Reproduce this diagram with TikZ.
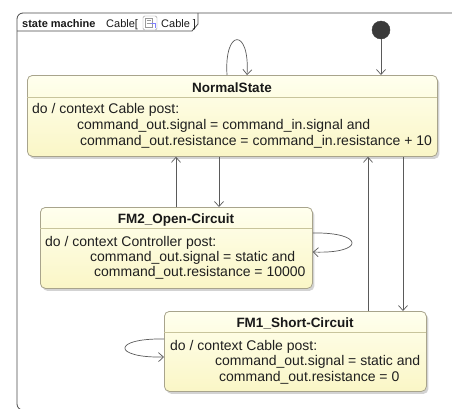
\documentclass[tikz,border=0pt]{standalone}
\usepackage{fontspec}
\setmainfont{Liberation Sans}
\usetikzlibrary{arrows.meta,shadows}
\definecolor{boxborder}{HTML}{A8A48C}
\definecolor{divcol}{HTML}{C8C49C}
\definecolor{linecol}{HTML}{5A5A5A}
\definecolor{framecol}{HTML}{4A4A4A}
\definecolor{fillA}{HTML}{FFFFEE}
\definecolor{fillB}{HTML}{FAF6C6}
\definecolor{initcol}{HTML}{3A3A3A}
\tikzset{
  statebox/.style={draw=boxborder, line width=0.8pt, rounded corners=5pt,
    top color=fillA, bottom color=fillB, anchor=north west, inner sep=0pt,
    drop shadow={shadow xshift=2pt, shadow yshift=-2.5pt, opacity=0.35, fill=gray}},
  divider/.style={draw=divcol, line width=0.8pt},
  body/.style={anchor=base west, inner sep=0pt, text=black!88,
    font=\fontsize{14}{16}\selectfont},
  head/.style={anchor=base, inner sep=0pt, text=black!90,
    font=\fontsize{13.5}{16}\selectfont\bfseries},
  trans/.style={draw=linecol, line width=0.7pt, -{Straight Barb[length=5pt,width=9pt]}},
  framestyle/.style={draw=framecol, line width=0.8pt},
  tabtext/.style={anchor=base west, inner sep=0pt, text=black!90,
    font=\fontsize{11}{13}\selectfont},
  initstate/.style={circle, fill=initcol, draw=initcol, minimum size=18pt, inner sep=0pt}
}
\begin{document}
\begin{tikzpicture}[x=1pt,y=-1pt]
\useasboundingbox (0,0) rectangle (452,408);
\clip (0,0) rectangle (452,408);
% frame
\draw[framestyle, rounded corners=6pt] (17,13) rectangle (480,410);
\draw[framestyle] (17,31) -- (192,31) -- (198,24) -- (198,13);
\node[tabtext, font=\fontsize{11}{13}\selectfont\bfseries] (tabsm) at (22,27) {state machine};
\node[tabtext] (tabc1) at (106,27) {Cable[};
\node[draw=gray!80, fill=white, rounded corners=1.5pt, minimum width=14pt, minimum height=14pt, inner sep=0pt] (icon) at (150,23) {};
\draw[gray!80, line width=0.5pt] (145,18) rectangle (152,27);
\draw[gray!80, line width=0.5pt] (146.5,20.5) -- (150.5,20.5) (146.5,23) -- (150.5,23);
\draw[blue!50, line width=0.6pt] (151,23.5) -- (155,23.5) -- (155,28);
\node[tabtext] (tabc2) at (161,27) {Cable ]};
% initial
\node[initstate] (init) at (381,30) {};
% NormalState
\node[statebox, minimum width=410pt, minimum height=81pt] (ns) at (27,75) {};
\draw[divider] (27,97) -- (437,97);
\node[head] (nsh) at (232,92) {NormalState};
\node[body] (ns1) at (32,113) {do / context Cable post:};
\node[body] (ns2) at (77,129) {command\_out.signal = command\_in.signal and};
\node[body] (ns3) at (80,145) {command\_out.resistance = command\_in.resistance + 10};
% FM2
\node[statebox, minimum width=272pt, minimum height=81pt] (fm2) at (40,207) {};
\draw[divider] (40,228) -- (312,228);
\node[head] (fm2h) at (176,223) {FM2\_Open-Circuit};
\node[body] (fm21) at (45,246.5) {do / context Controller post:};
\node[body] (fm22) at (90,261.5) {command\_out.signal = static and};
\node[body] (fm23) at (94,276.5) {command\_out.resistance = 10000};
% FM1
\node[statebox, minimum width=262pt, minimum height=80pt] (fm1) at (164,311) {};
\draw[divider] (164,332) -- (426,332);
\node[head] (fm1h) at (295,327) {FM1\_Short-Circuit};
\node[body] (fm11) at (170,350) {do / context Cable post:};
\node[body] (fm12) at (215,365.5) {command\_out.signal = static and};
\node[body] (fm13) at (219,381.5) {command\_out.resistance = 0};
% transitions
\draw[trans] (init) -- (init |- ns.north);
\draw[trans] (ns.north -| 227,0) .. controls (224,28) and (250,28) .. (ns.north -| 247,0);
\draw[trans] (fm2.north -| 176,0) -- (ns.south -| 176,0);
\draw[trans] (ns.south -| 219,0) -- (fm2.north -| 219,0);
\draw[trans] (fm1.north -| 368,0) -- (ns.south -| 368,0);
\draw[trans] (ns.south -| 403,0) -- (fm1.north -| 403,0);
\draw[trans] (fm2.east |- 0,233) .. controls (365,232) and (365,254) .. (fm2.east |- 0,252);
\draw[trans] (fm1.west |- 0,339) .. controls (112,338) and (112,358) .. (fm1.west |- 0,357);
\end{tikzpicture}
\end{document}
